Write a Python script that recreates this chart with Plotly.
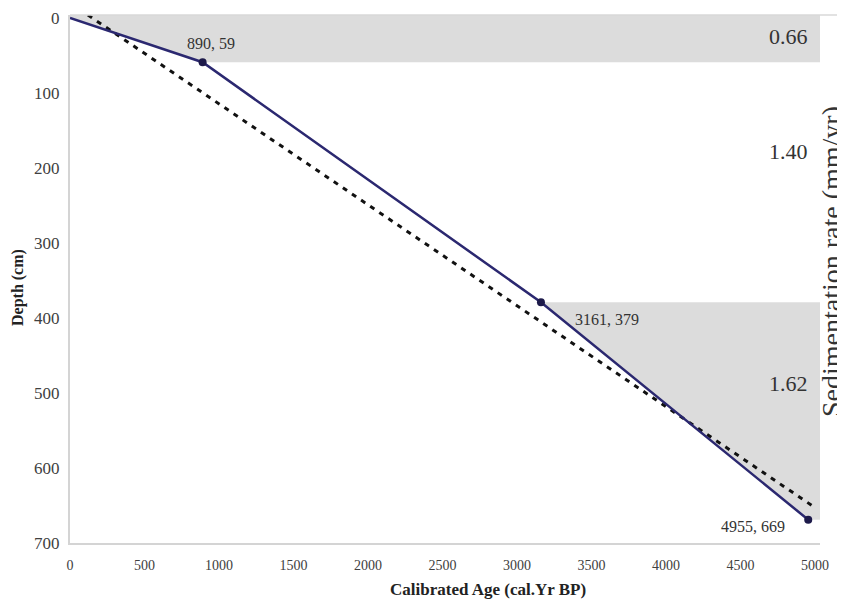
import plotly.graph_objects as go

# ---- data ----
age = [0, 890, 3161, 4955]          # calibrated age (cal. yr BP)
depth = [0, 59, 379, 669]           # depth (cm)
point_labels = ["890, 59", "3161, 379", "4955, 669"]

trend_age = [120, 4980]             # dashed linear trend
trend_depth = [-4, 650]

rates = ["0.66", "1.40", "1.62"]    # sedimentation rate (mm/yr)
rate_depth = [25, 178, 487]

x_ticks = [0, 500, 1000, 1500, 2000, 2500, 3000, 3500, 4000, 4500, 5000]
y_ticks = [0, 100, 200, 300, 400, 500, 600, 700]

X_RANGE = [0, 5034]
Y_RANGE = [700, -4]

SERIF = "Liberation Serif, Times New Roman, serif"
GRAY_FILL = "#dcdcdc"
NAVY = "#2b2870"

# page offset of the browser's default body margin
OFF = 8
PL, PT, PW, PH = 70, 15, 750, 528   # plot area in page pixels (left, top, width, height)
PB = PT + PH


def px(xp):
    return (xp - PL) / PW


def py(yp):
    return (PB - yp) / PH


fig = go.Figure()

# shaded band 1 (above the first segment)
fig.add_trace(go.Scatter(
    x=[age[0], age[1], X_RANGE[1], X_RANGE[1], age[0]],
    y=[depth[0], depth[1], depth[1], Y_RANGE[1], Y_RANGE[1]],
    fill="toself", fillcolor=GRAY_FILL, line=dict(width=0),
    mode="lines", hoverinfo="skip", showlegend=False))

# shaded band 3 (right of the last segment)
fig.add_trace(go.Scatter(
    x=[age[2], X_RANGE[1], X_RANGE[1], age[3], age[2]],
    y=[depth[2], depth[2], depth[3], depth[3], depth[2]],
    fill="toself", fillcolor=GRAY_FILL, line=dict(width=0),
    mode="lines", hoverinfo="skip", showlegend=False))

# dashed trend
fig.add_trace(go.Scatter(
    x=trend_age, y=trend_depth, mode="lines",
    line=dict(color="#111111", width=3, dash="5px,6px"),
    showlegend=False))

# age-depth model
fig.add_trace(go.Scatter(
    x=age, y=depth, mode="lines",
    line=dict(color=NAVY, width=2.5),
    showlegend=False))
fig.add_trace(go.Scatter(
    x=age[1:], y=depth[1:], mode="markers",
    marker=dict(color="#1d1a4a", size=8),
    showlegend=False, cliponaxis=False))

# point labels
label_shift = [(8, -19), (66, 17), (-55, 7)]
for a, d, t, (dx, dy) in zip(age[1:], depth[1:], point_labels, label_shift):
    fig.add_annotation(x=a, y=d, text=t, showarrow=False,
                       xshift=dx, yshift=-dy, xanchor="center", yanchor="middle",
                       font=dict(family=SERIF, size=16, color="#333333"))

# rate labels
for r, d in zip(rates, rate_depth):
    fig.add_annotation(x=X_RANGE[1], y=d, text=r, showarrow=False,
                       xanchor="right", yanchor="middle", xshift=-10,
                       font=dict(family=SERIF, size=22, color="#333333"))

fig.update_layout(
    width=845 - OFF, height=600 - OFF,
    margin=dict(l=PL - OFF, r=845 - PL - PW, t=PT - OFF, b=600 - PB, autoexpand=False),
    paper_bgcolor="white", plot_bgcolor="white",
    font=dict(family=SERIF, color="#404040"),
    xaxis=dict(range=X_RANGE, tickvals=x_ticks, showgrid=False, zeroline=False,
               showline=True, linecolor="#d4d4d4", linewidth=2, automargin=False,
               ticks="", tickfont=dict(family=SERIF, size=14, color="#404040"),
               ticklabelstandoff=8),
    yaxis=dict(range=Y_RANGE, tickvals=y_ticks, showgrid=False, zeroline=False,
               showline=True, linecolor="#d4d4d4", linewidth=2, automargin=False,
               ticks="", tickfont=dict(family=SERIF, size=17, color="#404040"),
               ticklabelstandoff=5),
)

# top border line
fig.add_shape(type="line", xref="paper", yref="paper", x0=0, x1=px(845), y0=1, y1=1,
              line=dict(color="#d8d8d8", width=1.5))

# axis titles
fig.add_annotation(xref="paper", yref="paper", x=px(488), y=py(589),
                   xanchor="center", yanchor="middle",
                   text="<b>Calibrated Age (cal.Yr BP)</b>", showarrow=False,
                   font=dict(family=SERIF, size=17, color="#222222"))
fig.add_annotation(xref="paper", yref="paper", x=px(18), y=py(288),
                   xanchor="center", yanchor="middle",
                   text="<b>Depth (cm)</b>", showarrow=False, textangle=-90,
                   font=dict(family=SERIF, size=16, color="#222222"))
fig.add_annotation(xref="paper", yref="paper", x=px(831), y=py(262),
                   xanchor="center", yanchor="middle",
                   text="Sedimentation rate (mm/yr)", showarrow=False, textangle=-90,
                   font=dict(family=SERIF, size=28, color="#333333"))

fig.write_html("out.html")
